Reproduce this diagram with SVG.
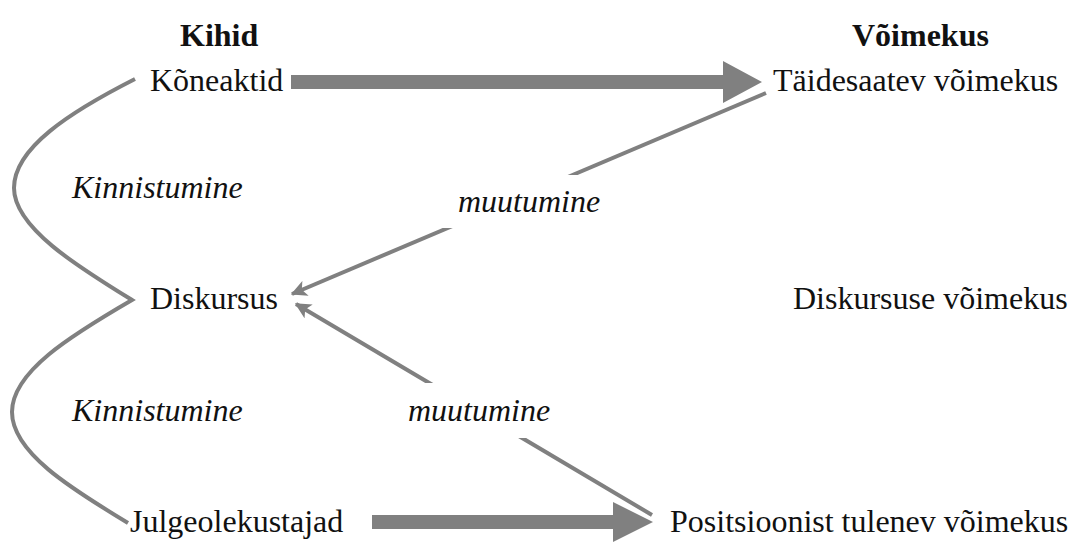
<svg xmlns="http://www.w3.org/2000/svg" width="1078" height="545" viewBox="0 0 1078 545">
  <style>
    text { font-family: "Liberation Serif", "Times New Roman", serif; font-size: 32px; fill: #111; }
    .b { font-weight: bold; }
    .i { font-style: italic; }
    .ln { fill: none; stroke: #808080; stroke-width: 4; }
    .thick { fill: #808080; }
  </style>
  <defs>
    <marker id="ah" viewBox="0 0 12 12" refX="11" refY="6" markerWidth="4" markerHeight="4" orient="auto" markerUnits="strokeWidth">
      <path d="M0,0 L12,6 L0,12 L3,6 Z" fill="#808080"/>
    </marker>
  </defs>
  <rect width="1078" height="545" fill="#fff"/>

  <g id="connectors">
    <path class="ln" d="M135,79 C 70,112 14,148 14,188 C 14,228 80,268 132,300 C 70,336 12,372 12,412 C 12,452 70,488 128,523"/>
    <polygon class="thick" points="291,75 723,75 723,61 762,82 723,103 723,89 291,89"/>
    <polygon class="thick" points="372,515 613,515 613,502 653,522 613,542 613,529 372,529"/>
    <line class="ln" x1="766" y1="93" x2="292" y2="294" marker-end="url(#ah)"/>
    <line class="ln" x1="652" y1="515" x2="296" y2="304" marker-end="url(#ah)"/>
    <rect x="440" y="175" width="180" height="53" fill="#fff"/>
    <rect x="400" y="383" width="160" height="55" fill="#fff"/>
  </g>

  <g id="hdr-kihid"><text class="b" x="180" y="46">Kihid</text></g>
  <g id="hdr-voimekus"><text class="b" x="852" y="46">Võimekus</text></g>
  <g id="n-koneaktid"><text x="150" y="91">Kõneaktid</text></g>
  <g id="n-taidesaatev"><text x="773" y="91">Täidesaatev võimekus</text></g>
  <g id="l-kinnistumine1"><text class="i" x="72" y="198">Kinnistumine</text></g>
  <g id="l-muutumine1"><text class="i" x="458" y="212">muutumine</text></g>
  <g id="n-diskursus"><text x="150" y="309">Diskursus</text></g>
  <g id="n-diskursuse"><text x="793" y="309">Diskursuse võimekus</text></g>
  <g id="l-kinnistumine2"><text class="i" x="72" y="421">Kinnistumine</text></g>
  <g id="l-muutumine2"><text class="i" x="408" y="421">muutumine</text></g>
  <g id="n-julgeolek"><text x="130" y="532">Julgeolekustajad</text></g>
  <g id="n-positsioon"><text x="670" y="532">Positsioonist tulenev võimekus</text></g>
</svg>
